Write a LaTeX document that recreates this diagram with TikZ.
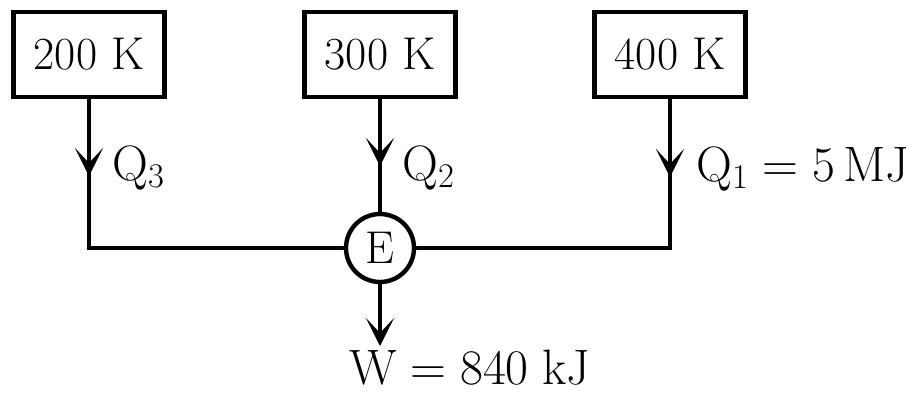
\documentclass[tikz,border=0pt]{standalone}
\usepackage{amsmath}
\usetikzlibrary{arrows.meta, positioning, calc}

\begin{document}
\begin{tikzpicture}[
    x=0.5pt, y=-0.5pt,
    every node/.style={font=\fontsize{23}{27}\selectfont, inner sep=0pt},
    res/.style={draw, line width=2.2pt, minimum width=75.5pt, minimum height=42.5pt},
    eng/.style={draw, circle, line width=2.2pt, minimum size=34pt},
    pipe/.style={line width=1.8pt},
    flow/.style={line width=1.8pt, -{Stealth[length=14pt, width=14pt, inset=7.5pt]}}
]
    \useasboundingbox (0,0) rectangle (906,392);

    % Reservoirs
    \node[res] (cold) at (89,54.5) {200 K};
    \node[res] (mid) at (380,54.5) {300 K};
    \node[res] (hot) at (670,54.5) {400 K};

    % Engine
    \node[eng] (eng) at (380,248) {E};

    % Arrow tips
    \coordinate (t3) at (89,176);
    \coordinate (t2) at (380,166);
    \coordinate (t1) at (670,177);
    \coordinate (wt) at (380,346);

    % Pipes
    \draw[pipe] (cold.south) |- (eng.west);
    \draw[pipe] (mid.south) -- (eng.north);
    \draw[pipe] (hot.south) |- (eng.east);

    % Heat flows
    \draw[flow] (cold.south) -- (t3);
    \draw[flow] (mid.south) -- (t2);
    \draw[flow] (hot.south) -- (t1);

    % Work output
    \draw[flow] (eng.south) -- (wt);

    % Labels
    \node[right=11.5pt of t3, yshift=4pt] (q3) {$\mathrm{Q}_3$};
    \node[right=11pt of t2, yshift=-1pt] (q2) {$\mathrm{Q}_2$};
    \node[right=13pt of t1, yshift=4pt] (q1) {$\mathrm{Q}_1 = 5\,\mathrm{MJ}$};
    \node[below=2pt of wt, xshift=45pt] (work) {$\mathrm{W} = 840\ \mathrm{kJ}$};
\end{tikzpicture}
\end{document}
